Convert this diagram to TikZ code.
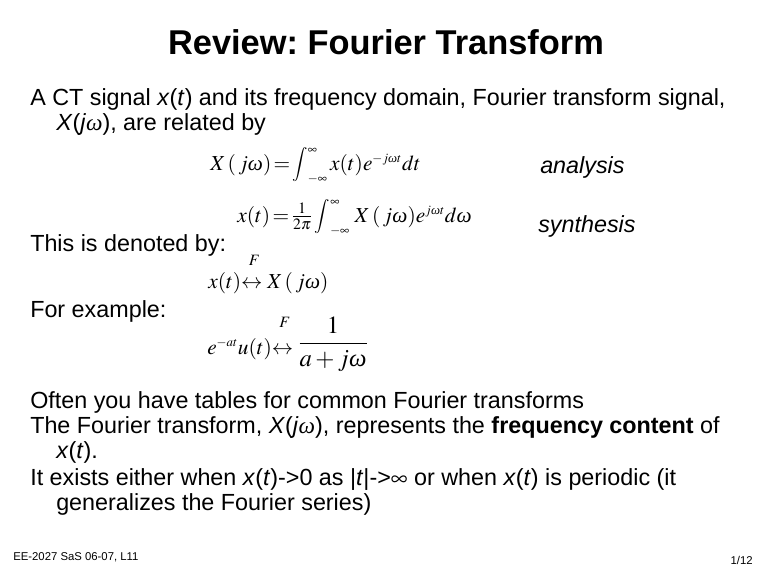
\documentclass[tikz,border=0pt]{standalone}
\usepackage{mathptmx}
\usepackage{amsmath}
\usepackage{graphicx}
\usepackage[no-math]{fontspec}
\setmainfont{Liberation Sans}
\newfontfamily\timesfont{Liberation Serif}
\usepackage{tikz}

% italic omega, small exponents and a compact integral, close to the slide's symbol font
\newcommand{\om}{\text{\timesfont\itshape ω}}
\newcommand{\sexp}[1]{^{\scriptscriptstyle #1}}
\newcommand{\ctint}{\mathop{\vcenter{\hbox{\scalebox{0.8}{$\displaystyle\int$}}}}\nolimits_{\scriptscriptstyle -\infty}^{\scriptscriptstyle \infty}}

\begin{document}
\frenchspacing
\begin{tikzpicture}[
  x=0.75pt, y=-0.75pt,
  slidetitle/.style={font=\fontsize{25.8}{30}\selectfont\bfseries, inner sep=0pt, anchor=base},
  bodyline/.style={font=\fontsize{17.5}{21}\selectfont, inner sep=0pt, anchor=base west},
  formula/.style={font=\fontsize{16}{19}\selectfont, inner sep=0pt, anchor=base west},
  remark/.style={font=\fontsize{17.5}{21}\selectfont\itshape, inner sep=0pt, anchor=base west},
  footer/.style={font=\fontsize{8.5}{10}\selectfont, inner sep=0pt}
]
\fill[white] (0,0) rectangle (768,576);
\useasboundingbox (0,0) rectangle (768,576);

\node[slidetitle] (title) at (386,54) {Review: Fourier Transform};

\node[bodyline] (intro1) at (30,105) {A CT signal \textit{x}(\textit{t}) and its frequency domain, Fourier transform signal,};
\node[bodyline] (intro2) at (56,130) {\textit{X}(\textit{j}{\timesfont\itshape ω}), are related by};

\node[formula] (analysiseq) at (210,170) {$X\,(\,j\om)\!=\!\ctint x(t)e\sexp{-j\om t}dt$};
\node[formula] (synthesiseq) at (237,222) {$x(t)\!=\!\tfrac{1}{2\pi}\ctint\, X\,(\,j\om)e\sexp{j\om t}d\om$};
\node[remark] (analysislabel) at (540,173) {analysis};
\node[remark] (synthesislabel) at (538,232) {synthesis};

\node[bodyline] (denoted) at (30,251) {This is denoted by:};
\node[formula] (pairgeneric) at (208,288) {$x(t){\overset{F\rule[-3pt]{0pt}{0pt}}{\leftrightarrow\vphantom{(}}}X\,(\,j\om)$};

\node[bodyline] (example) at (30,317) {For example:};
\node[formula] (pairexample) at (207,354) {$e\sexp{-at}u(t){\overset{F\rule[-6pt]{0pt}{0pt}}{\leftrightarrow\vphantom{(}}}\raisebox{3pt}{\fontsize{18.5}{22}\selectfont$\displaystyle\frac{1}{a+j\om}$}$};

\node[bodyline] (tables) at (30,408) {Often you have tables for common Fourier transforms};
\node[bodyline] (content1) at (30,433) {The Fourier transform, \textit{X}(\textit{j}{\timesfont\itshape ω}), represents the \textbf{frequency content} of};
\node[bodyline] (content2) at (56,458) {\textit{x}(\textit{t}).};
\node[bodyline] (exists1) at (30,485) {It exists either when \textit{x}(\textit{t})->0 as |\textit{t}|->$\infty$ or when \textit{x}(\textit{t}) is periodic (it};
\node[bodyline] (exists2) at (56,510) {generalizes the Fourier series)};

\node[footer, anchor=base west] (course) at (13,560) {EE-2027 SaS 06-07, L11};
\node[footer, anchor=base east] (pageno) at (753,564) {1/12};

\end{tikzpicture}
\end{document}
